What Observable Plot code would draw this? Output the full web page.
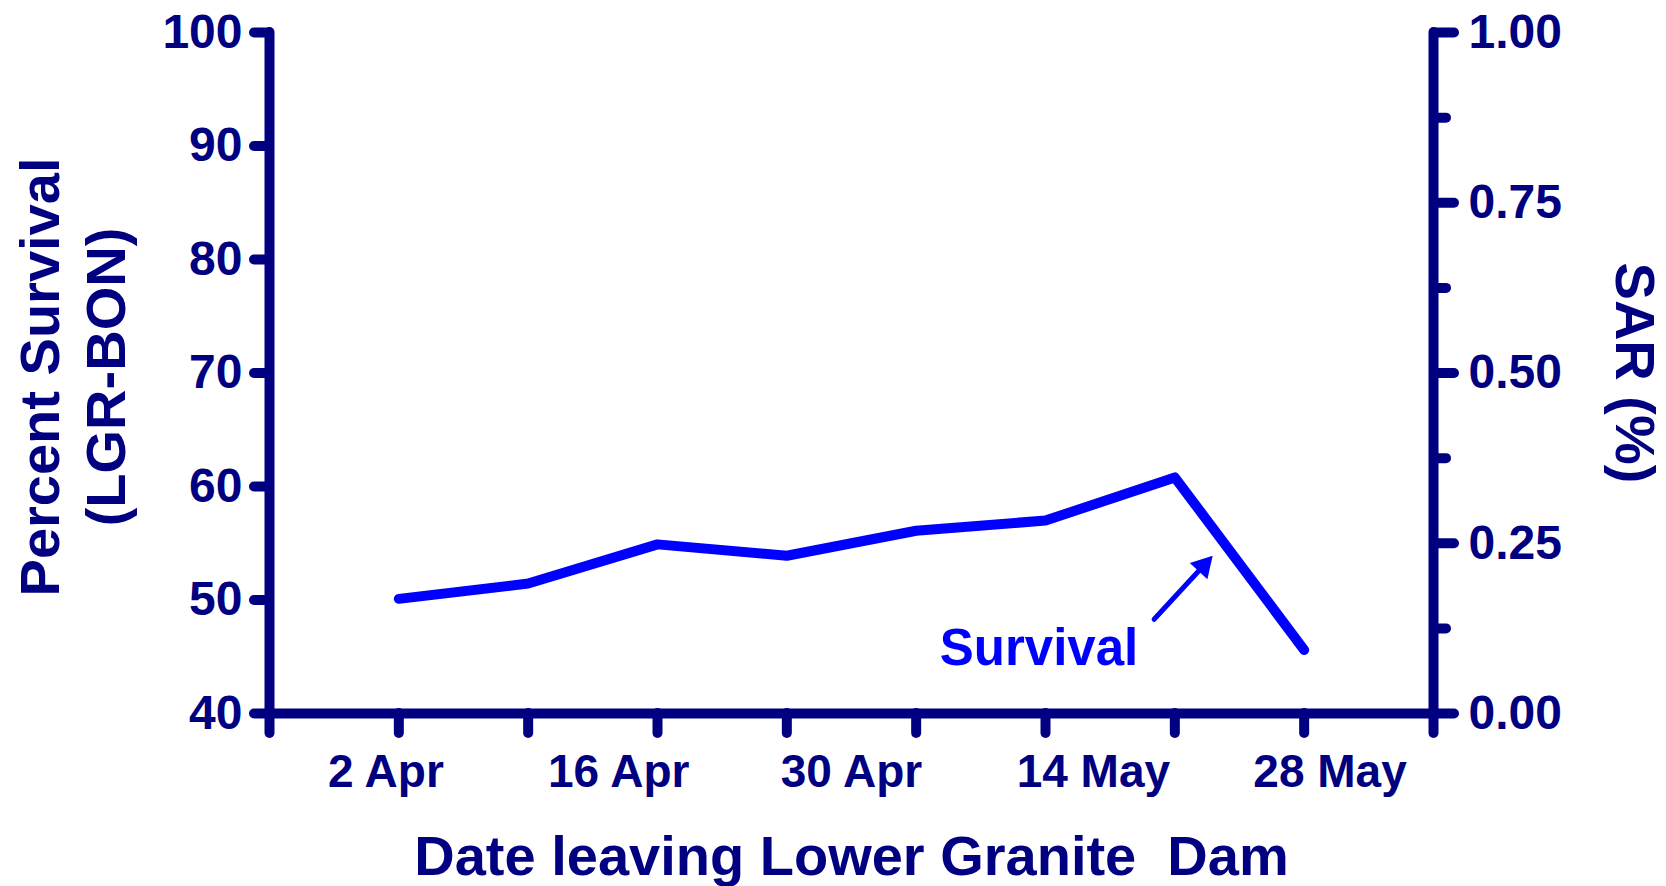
<!DOCTYPE html>
<html>
<head>
<meta charset="utf-8">
<script src="https://cdn.jsdelivr.net/npm/d3@7"></script>
<script src="https://cdn.jsdelivr.net/npm/@observablehq/plot@0.6"></script>
<style>
  html, body { margin: 0; padding: 0; background: #fff; }
  svg text { white-space: pre; }
</style>
</head>
<body>
<div id="chart"></div>
<script>
// ---- data ----
const pointIndex = [0, 1, 2, 3, 4, 5, 6, 7];
const survival = [50.1, 51.45, 54.9, 53.9, 56.1, 57.0, 60.8, 45.6];

const xTickIndex = [-1, 0, 1, 2, 3, 4, 5, 6, 7, 8];
const xLabelPos = [-0.1, 1.70, 3.50, 5.37, 7.20];
const xLabels = ["2 Apr", "16 Apr", "30 Apr", "14 May", "28 May"];

const leftTicks = [40, 50, 60, 70, 80, 90, 100];
const sarMajor = [0.00, 0.25, 0.50, 0.75, 1.00];
const sarMinor = [0.125, 0.375, 0.625, 0.875];

const seriesLabel = "Survival";
const arrowTail = {x: 5.84, y: 48.3};
const arrowHead = {x: 6.22, y: 53.0};
const labelPos = {x: 4.95, y: 45.7};

const xTitle = "Date leaving Lower Granite\u00a0 Dam";
const yTitle1 = "Percent Survival";
const yTitle2 = "(LGR-BON)";
const y2Title = "SAR (%)";

// ---- helpers ----
const navy = "#000080";
const blue = "#0000FF";
const yMin = 40, yMax = 100;
const sarToY = v => yMin + v * (yMax - yMin);
const yToSar = y => (y - yMin) / (yMax - yMin);

const lineData = pointIndex.map((i, k) => ({i, v: survival[k]}));
const xLabelData = xLabelPos.map((p, k) => ({p, label: xLabels[k]}));

const chart = Plot.plot({
  width: 1666,
  height: 886,
  marginLeft: 269,
  marginRight: 233,
  marginTop: 32,
  marginBottom: 173,
  x: {domain: [-1, 8], axis: null},
  y: {domain: [yMin, yMax], axis: null},
  style: {fontFamily: "'Liberation Sans', Arial, sans-serif", fontWeight: "bold", background: "white", overflow: "visible"},
  marks: [
    Plot.axisY({ticks: leftTicks, anchor: "left", tickSize: 15, tickPadding: 12, fontSize: 48, color: navy, strokeWidth: 10, strokeLinecap: "round", tickFormat: d => String(d), label: null}),
    Plot.axisY({ticks: sarMajor.map(sarToY), anchor: "right", tickSize: 20, tickPadding: 15, fontSize: 48, color: navy, strokeWidth: 10, strokeLinecap: "round", tickFormat: d => yToSar(d).toFixed(2), label: null}),
    Plot.axisY({ticks: sarMinor.map(sarToY), anchor: "right", tickSize: 12, color: navy, strokeWidth: 10, strokeLinecap: "round", tickFormat: () => "", label: null}),
    Plot.axisX({ticks: xTickIndex, anchor: "bottom", tickSize: 20, color: navy, strokeWidth: 10, strokeLinecap: "round", tickFormat: () => "", label: null}),
    Plot.ruleX([-1, 8], {y1: yMin, y2: yMax, stroke: navy, strokeWidth: 10, strokeLinecap: "round"}),
    Plot.ruleY([yMin], {x1: -1, x2: 8, stroke: navy, strokeWidth: 10, strokeLinecap: "round"}),
    Plot.text(xLabelData, {x: "p", text: "label", frameAnchor: "bottom", dy: 73, lineAnchor: "bottom", fontSize: 46, fill: navy}),
    Plot.text([xTitle], {frameAnchor: "bottom", dy: 161, lineAnchor: "bottom", fontSize: 56, fill: navy}),
    Plot.text([yTitle1], {frameAnchor: "left", textAnchor: "middle", dx: -228, dy: 4, rotate: -90, lineAnchor: "middle", fontSize: 56, fill: navy}),
    Plot.text([yTitle2], {frameAnchor: "left", textAnchor: "middle", dx: -162, dy: 4, rotate: -90, lineAnchor: "middle", fontSize: 56, fill: navy}),
    Plot.text([y2Title], {frameAnchor: "right", textAnchor: "middle", dx: 200, dy: 0, rotate: 90, lineAnchor: "middle", fontSize: 56, fill: navy}),
    Plot.line(lineData, {x: "i", y: "v", stroke: blue, strokeWidth: 10, strokeLinecap: "round", strokeLinejoin: "round"}),
    Plot.link([{}], {x1: () => arrowTail.x, y1: () => arrowTail.y, x2: () => arrowHead.x, y2: () => arrowHead.y, stroke: blue, strokeWidth: 5, strokeLinecap: "round"}),
    Plot.dot([arrowHead], {x: "x", y: "y", symbol: "triangle", r: 8.9, fill: blue, stroke: "none", rotate: 42.7}),
    Plot.text([labelPos], {x: "x", y: "y", text: () => seriesLabel, fontSize: 51, fill: blue, lineAnchor: "middle"})
  ]
});
document.getElementById("chart").appendChild(chart);
</script>
</body>
</html>
